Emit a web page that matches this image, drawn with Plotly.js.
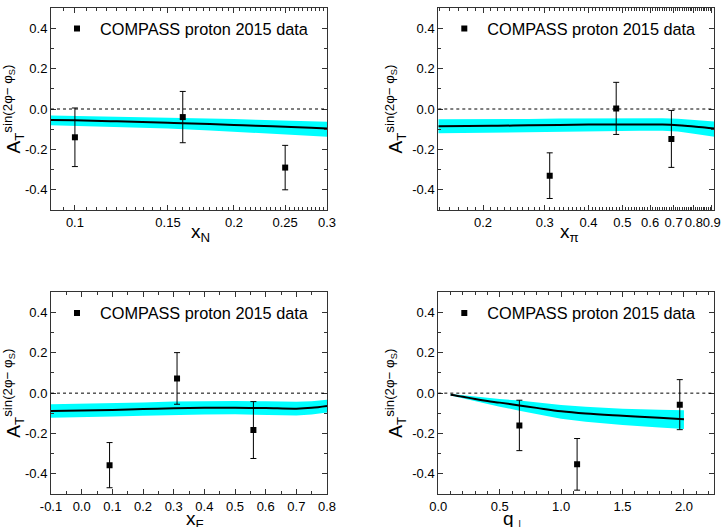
<!DOCTYPE html>
<html>
<head>
<meta charset="utf-8">
<script src="https://cdn.plot.ly/plotly-3.0.1.min.js"></script>
<style>html,body{margin:0;padding:0;background:#fff;}#chart{width:725px;height:527px;}</style>
</head>
<body>
<div id="chart"></div>
<script>
// ---------- data ----------
const legendLabel = 'COMPASS proton 2015 data';
const yTickVals = [-0.4, -0.2, 0, 0.2, 0.4];
const yTickText = ['-0.4', '-0.2', '0.0', '0.2', '0.4'];
const yMinorVals = [-0.5, -0.3, -0.1, 0.1, 0.3, 0.5];
const xTitles = ['x<sub>N</sub>', 'x<sub>π</sub>', 'x<sub>F</sub>', 'q<sub>⊥</sub>'];

// panel 1: x_N
const xN_data = [0.10, 0.16, 0.25];
const yN_data = [-0.14, -0.04, -0.29];
const eN_data = [0.145, 0.127, 0.110];
const xN_curve = [0.0901, 0.10, 0.12, 0.15, 0.18, 0.20, 0.22, 0.25, 0.28, 0.30];
const yN_curve = [-0.054, -0.056, -0.061, -0.068, -0.074, -0.079, -0.083, -0.088, -0.093, -0.096];
const yN_upper = [-0.032, -0.034, -0.037, -0.041, -0.046, -0.050, -0.053, -0.057, -0.061, -0.063];
const yN_lower = [-0.080, -0.083, -0.089, -0.097, -0.106, -0.112, -0.117, -0.125, -0.132, -0.137];
const xN_ticks = [0.1, 0.15, 0.2, 0.25, 0.3];
const xN_tickText = ['0.1', '0.15', '0.2', '0.25', '0.3'];
const xN_minor = [0.095, 0.105, 0.11, 0.115, 0.12, 0.125, 0.13, 0.135, 0.14, 0.145, 0.155, 0.16, 0.165, 0.17, 0.175, 0.18, 0.185, 0.19, 0.195, 0.205, 0.21, 0.215, 0.22, 0.225, 0.23, 0.235, 0.24, 0.245, 0.255, 0.26, 0.265, 0.27, 0.275, 0.28, 0.285, 0.29, 0.295];

// panel 2: x_pi
const xP_data = [0.31, 0.48, 0.69];
const yP_data = [-0.33, 0.003, -0.148];
const eP_data = [0.113, 0.129, 0.141];
const xP_curve = [0.149, 0.18, 0.22, 0.27, 0.33, 0.40, 0.48, 0.56, 0.65, 0.72, 0.80, 0.86, 0.915];
const yP_curve = [-0.085, -0.084, -0.083, -0.081, -0.079, -0.077, -0.077, -0.077, -0.077, -0.080, -0.087, -0.091, -0.096];
const yP_upper = [-0.051, -0.051, -0.050, -0.049, -0.047, -0.046, -0.046, -0.046, -0.046, -0.048, -0.054, -0.058, -0.062];
const yP_lower = [-0.120, -0.118, -0.116, -0.113, -0.111, -0.108, -0.108, -0.108, -0.108, -0.112, -0.122, -0.130, -0.137];
const xP_ticks = [0.2, 0.3, 0.4, 0.5, 0.6, 0.7, 0.8, 0.9];
const xP_tickText = ['0.2', '0.3', '0.4', '0.5', '0.6', '0.7', '0.8', '0.9'];
const xP_minor = [0.15, 0.16, 0.17, 0.18, 0.19, 0.21, 0.22, 0.23, 0.24, 0.25, 0.26, 0.27, 0.28, 0.29, 0.31, 0.32, 0.33, 0.34, 0.35, 0.36, 0.37, 0.38, 0.39, 0.41, 0.42, 0.43, 0.44, 0.45, 0.46, 0.47, 0.48, 0.49, 0.51, 0.52, 0.53, 0.54, 0.55, 0.56, 0.57, 0.58, 0.59, 0.61, 0.62, 0.63, 0.64, 0.65, 0.66, 0.67, 0.68, 0.69, 0.71, 0.72, 0.73, 0.74, 0.75, 0.76, 0.77, 0.78, 0.79, 0.81, 0.82, 0.83, 0.84, 0.85, 0.86, 0.87, 0.88, 0.89, 0.91];

// panel 3: x_F
const xF_data = [0.091, 0.311, 0.56];
const yF_data = [-0.357, 0.073, -0.183];
const eF_data = [0.112, 0.128, 0.141];
const xF_curve = [-0.1, 0.0, 0.1, 0.2, 0.3, 0.4, 0.5, 0.6, 0.7, 0.75, 0.8];
const yF_curve = [-0.088, -0.086, -0.083, -0.079, -0.075, -0.073, -0.072, -0.074, -0.077, -0.073, -0.064];
const yF_upper = [-0.055, -0.053, -0.050, -0.046, -0.042, -0.040, -0.039, -0.040, -0.043, -0.040, -0.033];
const yF_lower = [-0.122, -0.120, -0.116, -0.112, -0.108, -0.106, -0.105, -0.107, -0.111, -0.106, -0.096];
const xF_ticks = [-0.1, 0.0, 0.1, 0.2, 0.3, 0.4, 0.5, 0.6, 0.7, 0.8];
const xF_tickText = ['-0.1', '0.0', '0.1', '0.2', '0.3', '0.4', '0.5', '0.6', '0.7', '0.8'];
const xF_minor = [-0.05, 0.05, 0.15, 0.25, 0.35, 0.45, 0.55, 0.65, 0.75];

// panel 4: q_perp
const xQ_data = [0.66, 1.13, 1.966];
const yQ_data = [-0.16, -0.353, -0.057];
const eQ_data = [0.125, 0.128, 0.124];
const xQ_curve = [0.1, 0.2, 0.3, 0.4, 0.5, 0.66, 0.8, 1.0, 1.2, 1.5, 1.8, 2.0];
const yQ_curve = [-0.008, -0.018, -0.029, -0.039, -0.047, -0.061, -0.073, -0.090, -0.101, -0.112, -0.122, -0.129];
const yQ_upper = [-0.004, -0.011, -0.018, -0.024, -0.029, -0.037, -0.046, -0.059, -0.068, -0.077, -0.082, -0.085];
const yQ_lower = [-0.012, -0.026, -0.041, -0.055, -0.067, -0.087, -0.104, -0.127, -0.142, -0.158, -0.170, -0.178];
const xQ_ticks = [0.0, 0.5, 1.0, 1.5, 2.0];
const xQ_tickText = ['0.0', '0.5', '1.0', '1.5', '2.0'];
const xQ_minor = [0.1, 0.2, 0.3, 0.4, 0.6, 0.7, 0.8, 0.9, 1.1, 1.2, 1.3, 1.4, 1.6, 1.7, 1.8, 1.9, 2.1, 2.2];

// ---------- build ----------
const CYAN = '#00ffff';
const FONT = 'Liberation Sans, Arial, sans-serif';
const panels = [
  {xc: xN_curve, yc: yN_curve, yu: yN_upper, yl: yN_lower, xd: xN_data, yd: yN_data, ed: eN_data},
  {xc: xP_curve, yc: yP_curve, yu: yP_upper, yl: yP_lower, xd: xP_data, yd: yP_data, ed: eP_data},
  {xc: xF_curve, yc: yF_curve, yu: yF_upper, yl: yF_lower, xd: xF_data, yd: yF_data, ed: eF_data},
  {xc: xQ_curve, yc: yQ_curve, yu: yQ_upper, yl: yQ_lower, xd: xQ_data, yd: yQ_data, ed: eQ_data}
];
const traces = [];
panels.forEach((p, i) => {
  const xa = i === 0 ? 'x' : 'x' + (i + 1);
  const ya = i === 0 ? 'y' : 'y' + (i + 1);
  const lg = i === 0 ? 'legend' : 'legend' + (i + 1);
  traces.push({x: p.xc, y: p.yl, xaxis: xa, yaxis: ya, mode: 'lines', line: {width: 0, color: CYAN}, showlegend: false, hoverinfo: 'skip'});
  traces.push({x: p.xc, y: p.yu, xaxis: xa, yaxis: ya, mode: 'lines', line: {width: 0, color: CYAN}, fill: 'tonexty', fillcolor: CYAN, showlegend: false, hoverinfo: 'skip'});
  traces.push({x: p.xc, y: p.yc, xaxis: xa, yaxis: ya, mode: 'lines', line: {width: 2, color: '#000', shape: 'spline'}, showlegend: false});
  traces.push({x: p.xd, y: p.yd, xaxis: xa, yaxis: ya, mode: 'markers', name: legendLabel, legend: lg,
    marker: {symbol: 'square', size: 6, color: '#000'},
    error_y: {type: 'data', array: p.ed, visible: true, color: '#000', thickness: 1, width: 3}});
});

const W = 725, H = 527;
const colX = [[51, 327], [438.3, 714.3]];
const rowY = [[8, 210], [292.3, 494]];
function xdom(c) { return [colX[c][0] / W, colX[c][1] / W]; }
function ydom(r) { return [1 - rowY[r][1] / H, 1 - rowY[r][0] / H]; }

function xAxis(c, r, type, range, tv, tt, minor) {
  return {
    domain: xdom(c), anchor: r === 0 && c === 0 ? 'y' : 'y' + (r * 2 + c + 1),
    type: type, range: range, tickmode: 'array', tickvals: tv, ticktext: tt, tickangle: 0,
    ticks: 'inside', ticklen: 5, tickwidth: 1, tickcolor: '#333',
    minor: {tickmode: 'array', tickvals: minor, ticks: 'inside', ticklen: 3, tickcolor: '#333', tickwidth: 1},
    showline: true, linecolor: '#333', linewidth: 1, mirror: 'ticks', showgrid: false, zeroline: false,
    tickfont: {family: FONT, size: 13, color: '#000'}
  };
}
const yTitle = 'A<sub>T</sub><sup>sin(2φ− φ<sub>S</sub>)</sup>';
function yAxis(c, r) {
  return {
    domain: ydom(r), anchor: r === 0 && c === 0 ? 'x' : 'x' + (r * 2 + c + 1),
    range: [-0.5, 0.5], tickmode: 'array', tickvals: yTickVals, ticktext: yTickText,
    ticks: 'inside', ticklen: 5, tickwidth: 1, tickcolor: '#333',
    minor: {tickmode: 'array', tickvals: yMinorVals, ticks: 'inside', ticklen: 3, tickcolor: '#333', tickwidth: 1},
    showline: true, linecolor: '#333', linewidth: 1, mirror: 'ticks', showgrid: false, zeroline: false,
    tickfont: {family: FONT, size: 13, color: '#000'},
    title: {text: yTitle, font: {family: FONT, size: 19, color: '#000'}, standoff: 4}
  };
}
function leg(c, r) {
  return {x: (colX[c][0] + 3) / W, y: 1 - (rowY[r][0] + 21) / H, xanchor: 'left', yanchor: 'middle',
    itemwidth: 36, bgcolor: 'rgba(0,0,0,0)', font: {family: FONT, size: 16.3, color: '#000'}};
}
const shapes = [];
for (let k = 0; k < 4; k++) {
  const xr = k === 0 ? 'x domain' : 'x' + (k + 1) + ' domain';
  const yr = k === 0 ? 'y' : 'y' + (k + 1);
  shapes.push({type: 'line', xref: xr, yref: yr, x0: 0, x1: 1, y0: 0, y1: 0, line: {color: '#000', width: 1, dash: 'dot'}});
}
// x-axis titles placed just below the tick labels
const titlePos = [[200, 233], [569, 233], [195, 520], [514, 520]];
const annotations = xTitles.map((t, k) => ({
  text: t, xref: 'paper', yref: 'paper', x: titlePos[k][0] / W, y: 1 - titlePos[k][1] / H,
  xanchor: 'center', yanchor: 'middle', showarrow: false,
  font: {family: FONT, size: 19, color: '#000'}
}));

const layout = {
  width: W, height: H, margin: {l: 0, r: 0, t: 0, b: 0},
  paper_bgcolor: '#fff', plot_bgcolor: '#fff', showlegend: true,
  xaxis: xAxis(0, 0, 'log', [Math.log10(0.0901), Math.log10(0.3)], xN_ticks, xN_tickText, xN_minor),
  xaxis2: xAxis(1, 0, 'log', [Math.log10(0.149), Math.log10(0.915)], xP_ticks, xP_tickText, xP_minor),
  xaxis3: xAxis(0, 1, 'linear', [-0.1, 0.8], xF_ticks, xF_tickText, xF_minor),
  xaxis4: xAxis(1, 1, 'linear', [0, 2.247], xQ_ticks, xQ_tickText, xQ_minor),
  yaxis: yAxis(0, 0), yaxis2: yAxis(1, 0), yaxis3: yAxis(0, 1), yaxis4: yAxis(1, 1),
  legend: leg(0, 0), legend2: leg(1, 0), legend3: leg(0, 1), legend4: leg(1, 1),
  shapes: shapes, annotations: annotations
};
Plotly.newPlot('chart', traces, layout, {displayModeBar: false, staticPlot: true});
</script>
</body>
</html>
